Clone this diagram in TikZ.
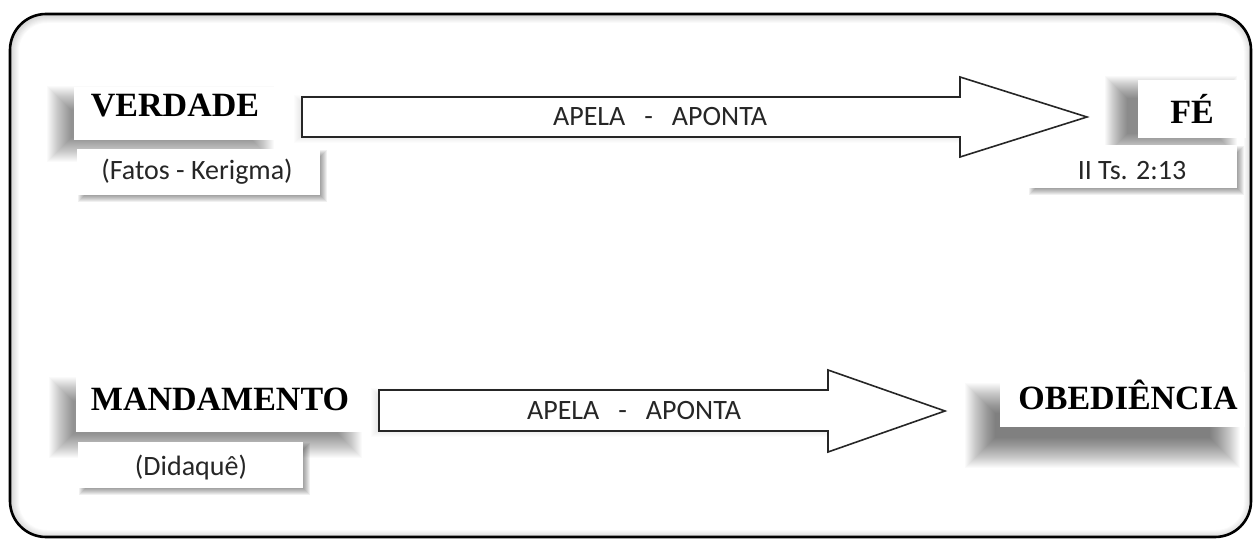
\documentclass[tikz,border=0pt]{standalone}
\usepackage{fontspec}
\setmainfont{Liberation Serif}
\newfontfamily\calib{Carlito}
\tikzset{
  frame/.style={draw=black, line width=2.6pt, rounded corners=36pt},
  whitebox/.style={fill=white, draw=none, inner sep=0pt, outer sep=0pt},
  titletext/.style={font=\fontsize{34}{38}\selectfont\bfseries, inner sep=0pt, text=black},
  subtext/.style={font=\calib\fontsize{28}{31}\selectfont, inner sep=0pt, text=black!85},
  arrowtext/.style={font=\calib\fontsize{28}{31}\selectfont, inner sep=0pt, text=black!85},
  blockarrow/.style={draw=black!85, line width=1.6pt, fill=white, line join=miter},
}
% blurred shadow: nominal rectangle (#1,#2)-(#3,#4), blur radius #5, layer opacity #6
\newcommand{\softshadow}[6]{%
  \foreach \i in {-#5,...,#5}{\fill[black, opacity=#6] (#1-\i,#2-\i) rectangle (#3+\i,#4+\i);}}
\begin{document}
\begin{tikzpicture}[x=1pt,y=-1pt]
\useasboundingbox (0,0) rectangle (1255,540);
\fill[white] (0,0) rectangle (1255,540);
% inner glow of the frame
\begin{scope}
  \clip[rounded corners=36pt] (10,14) rectangle (1251,537);
  \foreach \i in {2,4,...,16}{\draw[black, opacity=0.018, line width=\i pt, rounded corners=36pt] (11,15) rectangle (1252,538);}
\end{scope}
% outer frame
\draw[frame] (10,14) rectangle (1251,537);

% shadows
\softshadow{59}{98}{262}{150}{12}{0.021}
\softshadow{61}{389}{350}{446}{12}{0.021}
\softshadow{1116}{87}{1226}{145}{11}{0.022}
\softshadow{980}{398}{1225}{453}{15}{0.018}
\softshadow{81}{153}{324}{199}{3}{0.06}
\softshadow{1032}{149}{1241}{192}{3}{0.06}
\softshadow{82}{446}{307}{492}{3}{0.06}
\softshadow{298}{99}{958}{139}{4}{0.012}
\softshadow{375}{392}{826}{433}{4}{0.012}

% title boxes
\node[whitebox, minimum width=202pt, minimum height=53pt, anchor=north west] (verdadebox) at (74,87) {};
\node[whitebox, minimum width=108pt, minimum height=58pt, anchor=north west] (febox) at (1138,80) {};
\node[whitebox, minimum width=289pt, minimum height=55pt, anchor=north west] (mandbox) at (76,377) {};
\node[whitebox, minimum width=245pt, minimum height=55pt, anchor=north west] (obedbox) at (1000,372) {};
% sub boxes
\node[whitebox, minimum width=243pt, minimum height=46pt, anchor=north west] (fatosbox) at (77,149) {};
\node[whitebox, minimum width=209pt, minimum height=43pt, anchor=north west] (tsbox) at (1028,145) {};
\node[whitebox, minimum width=225pt, minimum height=46pt, anchor=north west] (didbox) at (78,442) {};

% texts
\node[titletext] (verdade) at (175,106) {VERDADE};
\node[titletext] (fe) at (1192,109) {FÉ};
\node[titletext] (mand) at (220,399) {MANDAMENTO};
\node[titletext] (obed) at (1128,395) {OBEDIÊNCIA};
\node[subtext] (fatos) at (197,172) {(Fatos - Kerigma)};
\node[subtext] (ts) at (1132,171) {II Ts. 2:13};
\node[subtext] (did) at (191,468) {(Didaquê)};

% block arrows
\draw[blockarrow] (302,97) -- (960,97) -- (960,77) -- (1087,117) -- (960,157) -- (960,137) -- (302,137) -- cycle;
\node[arrowtext] (apela1) at (660,117) {APELA\ \ \ -\ \ \ APONTA};
\draw[blockarrow] (379,390) -- (828,390) -- (828,370) -- (945,411) -- (828,452) -- (828,431) -- (379,431) -- cycle;
\node[arrowtext] (apela2) at (634,411) {APELA\ \ \ -\ \ \ APONTA};
\end{tikzpicture}
\end{document}
